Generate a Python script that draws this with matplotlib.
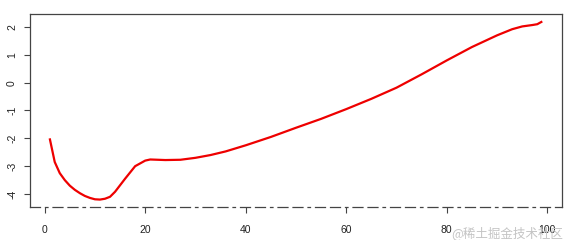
import matplotlib
matplotlib.use("Agg")
import matplotlib.pyplot as plt

x_vals = [1, 2, 3, 4, 5, 6, 7, 8, 9, 10, 11, 12, 13, 14, 16, 18, 20, 21, 24, 27, 30, 33, 36,
          40, 45, 50, 55, 60, 65, 70, 75, 80, 85, 90, 93, 95, 97, 98, 99]
y_vals = [-2.0, -2.85, -3.25, -3.5, -3.7, -3.85, -3.97, -4.07, -4.14, -4.19, -4.2, -4.17, -4.1,
          -3.92, -3.45, -3.0, -2.8, -2.76, -2.78, -2.77, -2.7, -2.6, -2.47,
          -2.25, -1.95, -1.62, -1.3, -0.95, -0.58, -0.18, 0.3, 0.8, 1.28, 1.7, 1.92, 2.02, 2.07, 2.1, 2.2]
x_ticks = [0, 20, 40, 60, 80, 100]
y_ticks = [-4, -3, -2, -1, 0, 1, 2]

plt.rcParams['font.family'] = ['Liberation Sans', 'DejaVu Sans']
fig = plt.figure(figsize=(5.69, 2.40), dpi=100)
ax = fig.add_axes([30/569, 1 - 206.7/240, (562 - 30)/569, (206.7 - 14.3)/240])
ax.plot(x_vals, y_vals, color='#ee0000', linewidth=1.6, solid_capstyle='butt')

ax.set_xlim(-2.92, 102.92)
ax.set_ylim(-4.456, 2.456)
ax.set_xticks(x_ticks)
ax.set_yticks(y_ticks)
ax.set_xticklabels([str(t) for t in x_ticks])
ax.set_yticklabels([str(t) for t in y_ticks], rotation=90, va='center')
ax.tick_params(axis='both', length=4.3, width=0.8, color='#444444', labelsize=7.5, labelcolor='#222222')
ax.tick_params(axis='x', pad=9)
ax.tick_params(axis='y', pad=5)
for s in ['left', 'top', 'right']:
    ax.spines[s].set_color('#444444')
    ax.spines[s].set_linewidth(0.9)
ax.spines['bottom'].set_color('#444444')
ax.spines['bottom'].set_linewidth(0.9)
ax.spines['bottom'].set_linestyle((0, (8, 4, 2, 4, 8, 4)))

fig.text(0.99, 1 - 233/240, '@稀土掘金技术社区', ha='right', va='center', fontsize=9,
         color='#c4c4c4', family=['Noto Sans CJK SC', 'DejaVu Sans'])

fig.savefig('out.png', dpi=100)
